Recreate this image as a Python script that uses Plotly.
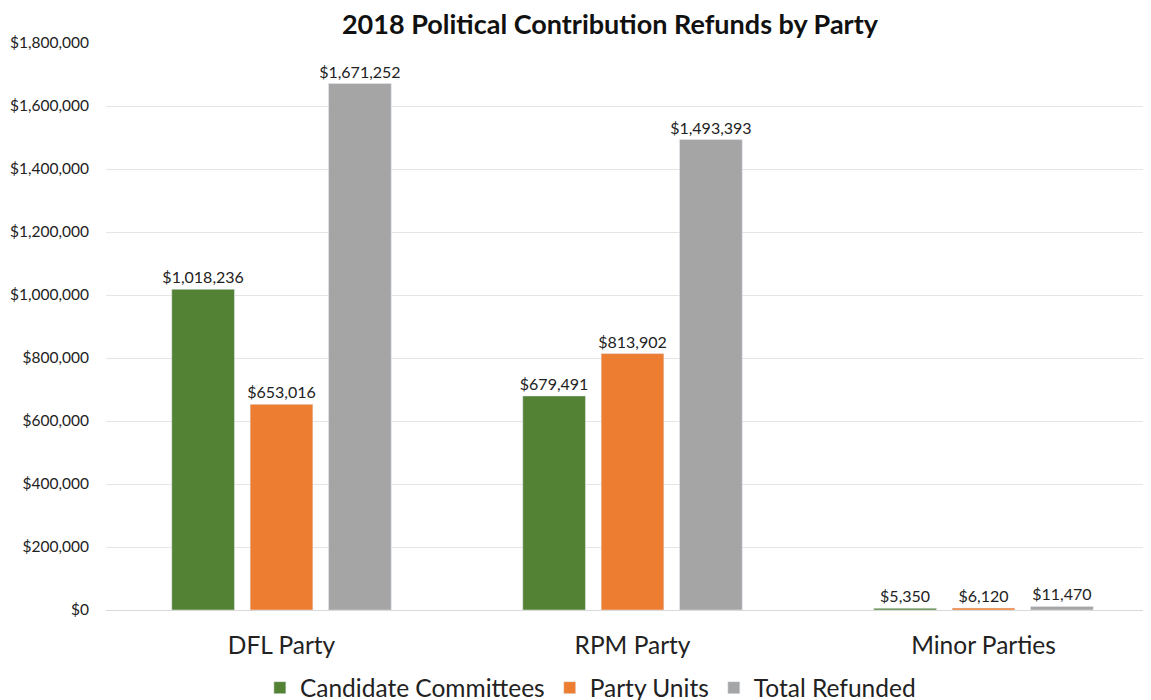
import plotly.graph_objects as go

categories = ["DFL Party", "RPM Party", "Minor Parties"]
candidate_committees = [1018236, 679491, 5350]
party_units = [653016, 813902, 6120]
total_refunded = [1671252, 1493393, 11470]
series_names = ["Candidate Committees", "Party Units", "Total Refunded"]
colors = ["#548235", "#ED7D31", "#A5A5A5"]

fig = go.Figure()
for name, vals, col in zip(series_names, [candidate_committees, party_units, total_refunded], colors):
    fig.add_trace(go.Bar(
        x=categories, y=vals, name=name, marker_color=col,
        text=[f"${v:,.0f}" for v in vals],
        textposition="outside",
        constraintext="none",
        textfont=dict(size=16, color="#222222"), cliponaxis=False,
    ))

fig.update_layout(
    width=1151, height=700,
    margin=dict(l=98, r=0, t=35, b=98, autoexpand=False),
    paper_bgcolor="white", plot_bgcolor="white",
    font=dict(family="Lato, Open Sans, sans-serif", color="#222222"),
    title=dict(text="<b>2018 Political Contribution Refunds by Party</b>",
               x=0.523, xanchor="center", y=0.99, yanchor="top",
               font=dict(size=27, color="#111111")),
    barmode="group", bargap=0.33, bargroupgap=0.2,
    legend=dict(orientation="h", x=0.46, xanchor="center", yref="container", y=0.029, yanchor="middle",
                font=dict(size=24.5), traceorder="normal", itemwidth=30),
    xaxis=dict(tickfont=dict(size=24.5), showline=True, linecolor="#D9D9D9", ticks="",
               ticklabelstandoff=14),
    yaxis=dict(range=[0, 1800000], dtick=200000, tickformat="$,.0f",
               gridcolor="#E5E5E5", tickfont=dict(size=15.5), zeroline=False,
               ticklabelstandoff=16),
)
fig.write_html("out.html")
